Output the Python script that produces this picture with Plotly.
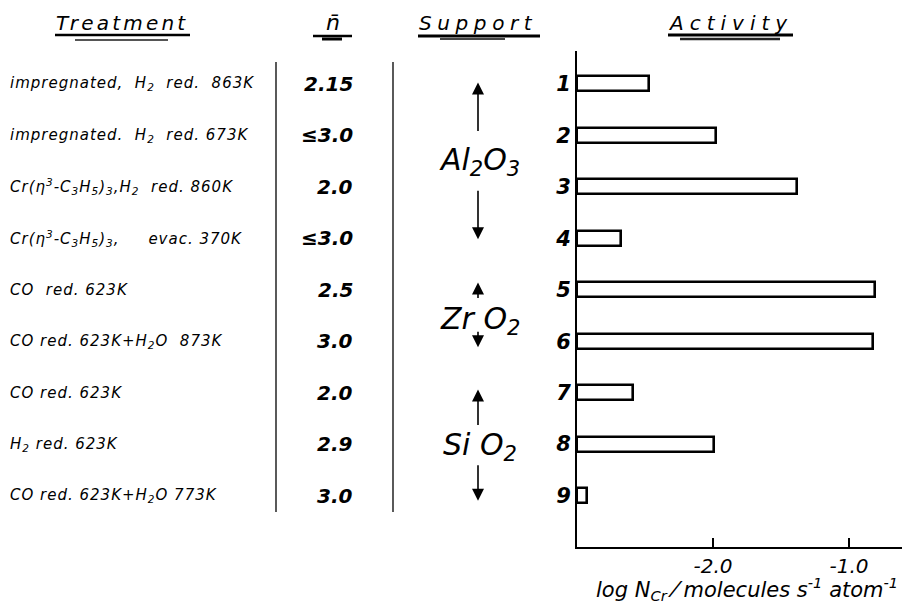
import plotly.graph_objects as go

# ---- data -------------------------------------------------------------
rows = [1, 2, 3, 4, 5, 6, 7, 8, 9]
row_labels = ["1", "2", "3", "4", "5", "6", "7", "8", "9"]

treatments = [
    "impregnated,  H<sub>2</sub>  red.  863K",
    "impregnated.  H<sub>2</sub>  red. 673K",
    "Cr(η<sup>3</sup>-C<sub>3</sub>H<sub>5</sub>)<sub>3</sub>,H<sub>2</sub>  red. 860K",
    "Cr(η<sup>3</sup>-C<sub>3</sub>H<sub>5</sub>)<sub>3</sub>,     evac. 370K",
    "CO  red. 623K",
    "CO red. 623K+H<sub>2</sub>O  873K",
    "CO red. 623K",
    "H<sub>2</sub> red. 623K",
    "CO red. 623K+H<sub>2</sub>O 773K",
]

n_bar = ["2.15", "≤3.0", "2.0", "≤3.0", "2.5", "3.0", "2.0", "2.9", "3.0"]

# log N_Cr (molecules s^-1 atom^-1)
log_activity = [-2.47, -1.98, -1.38, -2.68, -0.81, -0.82, -2.59, -1.99, -2.93]

supports = ["Al<sub>2</sub>O<sub>3</sub>", "Zr O<sub>2</sub>", "Si O<sub>2</sub>"]
support_label_row = [2.5, 5.6, 8.05]
# arrow tips (row units) and shaft lengths (px) for each support bracket
support_arrow_top = [0.97, 4.86, 6.94]
support_arrow_bottom = [4.02, 6.12, 9.1]
support_shaft = [50, 17, 37]

x_tick_vals = [-2.0, -1.0]
x_tick_text = ["-2.0", "-1.0"]

X_MIN, X_MAX = -3.0, -0.61

# ---- page geometry ------------------------------------------------------
W, H = 902, 610
FONT = "DejaVu Sans"


def px(x):
    return x / W


def py(y):
    return 1 - y / H


def spaced(text, ls):
    return f'<span style="letter-spacing:{ls}px">{text}</span>'


fig = go.Figure()

fig.add_trace(go.Bar(
    y=rows,
    x=[v - X_MIN for v in log_activity],
    base=X_MIN,
    orientation="h",
    width=0.29,
    marker=dict(color="white", line=dict(color="black", width=2.6)),
    hoverinfo="skip",
))

annotations = []

# column headers
headers = [
    ("Treatment", 122, 3.2, 20),
    ("n̄", 333, 0, 22),
    ("Support", 478, 5.6, 20),
    ("Activity", 730, 6.0, 20),
]
for text, cx, ls, size in headers:
    annotations.append(dict(
        x=px(cx), y=py(23), xref="paper", yref="paper",
        text=spaced(text, ls), showarrow=False,
        xanchor="center", yanchor="middle",
        font=dict(family=FONT, size=size, style="italic", color="black"),
    ))

# treatment column
for r, t in zip(rows, treatments):
    annotations.append(dict(
        x=px(8), y=r, xref="paper", yref="y",
        text=spaced(t, 1.0), showarrow=False,
        xanchor="left", yanchor="middle",
        font=dict(family=FONT, size=15, style="italic", color="black"),
    ))

# n-bar column
for r, n in zip(rows, n_bar):
    annotations.append(dict(
        x=px(355), y=r, xref="paper", yref="y",
        text=n, showarrow=False,
        xanchor="right", yanchor="middle",
        font=dict(family=FONT, size=20, style="italic", weight="bold",
                  color="black"),
    ))

# support column with range arrows
for name, mid, top, bot, shaft in zip(supports, support_label_row,
                                      support_arrow_top, support_arrow_bottom,
                                      support_shaft):
    annotations.append(dict(
        x=px(480), y=mid, xref="paper", yref="y",
        text=name, showarrow=False,
        xanchor="center", yanchor="middle",
        font=dict(family=FONT, size=30, style="italic", color="black"),
    ))
    annotations.append(dict(
        x=px(478), y=top, xref="paper", yref="y",
        ax=0, ay=shaft, axref="pixel", ayref="pixel",
        text="", showarrow=True, arrowhead=2, arrowsize=1.5,
        arrowwidth=1.6, arrowcolor="black",
    ))
    annotations.append(dict(
        x=px(478), y=bot, xref="paper", yref="y",
        ax=0, ay=-shaft, axref="pixel", ayref="pixel",
        text="", showarrow=True, arrowhead=2, arrowsize=1.5,
        arrowwidth=1.6, arrowcolor="black",
    ))

# axis title
annotations.append(dict(
    x=px(900), y=py(589), xref="paper", yref="paper",
    text="log N<sub>Cr</sub> ⁄ molecules s<sup>-1</sup> atom<sup>-1</sup>",
    showarrow=False, xanchor="right", yanchor="middle",
    font=dict(family=FONT, size=21, style="italic", color="black"),
))

shapes = []
# column separators
for sx in (276, 393):
    shapes.append(dict(type="line", xref="paper", yref="paper",
                       x0=px(sx), x1=px(sx), y0=py(62), y1=py(512),
                       line=dict(color="black", width=1.3)))
# header underlines
for x0, x1, y, w, c in [
    (55, 190, 35, 2.6, "black"), (75, 168, 40, 2.2, "#555"),
    (313, 352, 36, 2.6, "black"), (322, 342, 39, 3.0, "black"),
    (418, 540, 36, 2.8, "black"), (440, 505, 39, 1.8, "#444"),
    (668, 793, 35, 2.8, "black"), (680, 780, 39, 2.4, "#222"),
]:
    shapes.append(dict(type="line", xref="paper", yref="paper",
                       x0=px(x0), x1=px(x1), y0=py(y), y1=py(y),
                       line=dict(color=c, width=w)))

fig.update_layout(
    width=W, height=H,
    margin=dict(l=0, r=0, t=0, b=0),
    paper_bgcolor="white", plot_bgcolor="white",
    showlegend=False,
    bargap=0,
    annotations=annotations,
    shapes=shapes,
    xaxis=dict(
        domain=[px(577), 1.0],
        range=[X_MIN, X_MAX],
        showgrid=False, zeroline=False,
        showline=True, linecolor="black", linewidth=2,
        ticks="inside", ticklen=9, tickwidth=2.2, tickcolor="black",
        tickvals=x_tick_vals, ticktext=x_tick_text,
        ticklabelstandoff=0,
        tickfont=dict(family=FONT, size=20, style="italic", color="black"),
        automargin=False, fixedrange=True,
    ),
    yaxis=dict(
        domain=[py(547), py(51)],
        range=[10.0, 0.36],
        showgrid=False, zeroline=False,
        showline=True, linecolor="black", linewidth=2,
        ticks="", tickvals=rows, ticktext=row_labels,
        tickfont=dict(family=FONT, size=21, style="italic", weight="bold",
                      color="black"),
        automargin=False, fixedrange=True,
    ),
)

fig.write_html("out.html")
